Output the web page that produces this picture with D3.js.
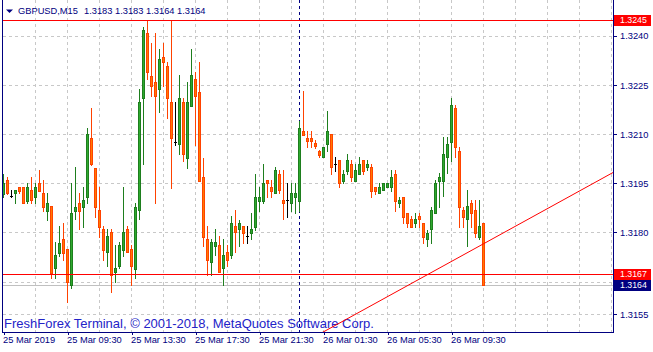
<!DOCTYPE html>
<html><head><meta charset="utf-8">
<script src="https://cdn.jsdelivr.net/npm/d3@7"></script>
<style>
html,body{margin:0;padding:0;background:#fff;}
svg{display:block;font-family:"Liberation Sans",Arial,sans-serif;}
</style></head>
<body>
<svg id="c" width="653" height="352"></svg>
<script>
const symbolTitle = "GBPUSD,M15";
const lastOHLC = "1.3183 1.3183 1.3164 1.3164";
const copyright = "FreshForex Terminal, \u00A9 2001-2018, MetaQuotes Software Corp.";

const opens = [1.31918,1.31960,1.31911,1.31920,1.31938,1.31938,1.31897,1.31930,1.31909,1.31950,
1.31920,1.31867,1.31881,1.31691,1.31738,1.31779,1.31749,1.31640,1.31867,1.31889,
1.31879,1.31909,1.32088,1.31998,1.31869,1.31811,1.31740,1.31801,1.31678,1.31699,
1.31747,1.31811,1.31750,1.31689,1.31869,1.32210,1.32408,1.32279,1.32259,1.32238,
1.32337,1.32309,1.32198,1.32077,1.32069,1.32198,1.32028,1.32187,1.32269,1.32228,
1.31969,1.31780,1.31709,1.31760,1.31762,1.31691,1.31740,1.31731,1.31821,1.31811,
1.31820,1.31789,1.31799,1.31818,1.31897,1.31897,1.31960,1.31938,1.31920,1.31979,
1.31899,1.31899,1.31889,1.31909,1.31897,1.32109,1.32089,1.32089,1.32073,1.32048,
1.32030,1.32070,1.32101,1.32009,1.32021,1.31958,1.31989,1.32009,1.31958,1.31979,
1.32021,1.31999,1.31999,1.31938,1.31920,1.31930,1.31938,1.31938,1.31979,1.31889,
1.31909,1.31859,1.31840,1.31828,1.31850,1.31828,1.31779,1.31810,1.31859,1.31958,
1.31958,1.32030,1.32077,1.32179,1.32050,1.31869,1.31840,1.31889,1.31869,1.31787,
1.31830];
const highs = [1.31979,1.31969,1.31930,1.31930,1.31938,1.31938,1.31950,1.31969,1.31950,1.31991,
1.31960,1.31920,1.31881,1.31772,1.31820,1.31830,1.31749,1.31950,1.31999,1.31920,
1.31938,1.32118,1.32179,1.31998,1.31940,1.31821,1.31811,1.31811,1.31762,1.31770,
1.31940,1.31821,1.31762,1.31889,1.32238,1.32428,1.32449,1.32379,1.32408,1.32360,
1.32379,1.32320,1.32449,1.32198,1.32281,1.32210,1.32259,1.32360,1.32289,1.32320,
1.32028,1.31821,1.31780,1.31811,1.31790,1.31780,1.31762,1.31851,1.31869,1.31838,
1.31820,1.31820,1.31859,1.31979,1.31938,1.32009,1.31960,1.31960,1.31999,1.31991,
1.31991,1.31950,1.31950,1.31950,1.32140,1.32232,1.32109,1.32109,1.32082,1.32052,
1.32060,1.32170,1.32101,1.32030,1.32021,1.31991,1.32040,1.32021,1.32009,1.32030,
1.32021,1.32021,1.32009,1.31938,1.31950,1.31950,1.31950,1.31991,1.31991,1.31909,
1.31909,1.31859,1.31850,1.31859,1.31859,1.31828,1.31808,1.31879,1.31960,1.31981,
1.32091,1.32091,1.32211,1.32189,1.32060,1.31879,1.31930,1.31899,1.31899,1.31899,
1.31830];
const lows = [1.31909,1.31918,1.31909,1.31889,1.31920,1.31889,1.31889,1.31889,1.31889,1.31928,
1.31867,1.31838,1.31660,1.31660,1.31728,1.31716,1.31589,1.31630,1.31840,1.31810,
1.31818,1.31889,1.32006,1.31848,1.31787,1.31716,1.31699,1.31619,1.31650,1.31691,
1.31729,1.31740,1.31638,1.31660,1.31841,1.32008,1.32269,1.32218,1.31889,1.32169,
1.32248,1.32149,1.31937,1.32067,1.32039,1.32018,1.31998,1.32187,1.32067,1.31958,
1.31760,1.31670,1.31670,1.31731,1.31678,1.31638,1.31699,1.31721,1.31740,1.31760,
1.31769,1.31769,1.31779,1.31808,1.31867,1.31889,1.31909,1.31909,1.31920,1.31920,
1.31840,1.31848,1.31867,1.31859,1.31867,1.32099,1.32060,1.32060,1.32058,1.32030,
1.32030,1.32050,1.31979,1.31989,1.31938,1.31950,1.31979,1.31958,1.31958,1.31979,
1.31979,1.31991,1.31909,1.31918,1.31920,1.31930,1.31938,1.31928,1.31867,1.31879,
1.31828,1.31818,1.31818,1.31818,1.31818,1.31769,1.31759,1.31769,1.31859,1.31879,
1.31911,1.31981,1.32019,1.32030,1.31818,1.31818,1.31759,1.31818,1.31787,1.31779,
1.31640];
const closes = [1.31950,1.31920,1.31911,1.31930,1.31928,1.31889,1.31938,1.31899,1.31938,1.31928,
1.31879,1.31889,1.31677,1.31731,1.31769,1.31738,1.31650,1.31859,1.31879,1.31867,
1.31899,1.32100,1.32008,1.31879,1.31818,1.31747,1.31790,1.31670,1.31691,1.31762,
1.31801,1.31740,1.31699,1.31879,1.32198,1.32418,1.32289,1.32248,1.32218,1.32330,
1.32320,1.32210,1.32088,1.32077,1.32210,1.32039,1.32198,1.32281,1.32218,1.31958,
1.31787,1.31716,1.31770,1.31770,1.31678,1.31731,1.31716,1.31828,1.31801,1.31828,
1.31799,1.31789,1.31810,1.31909,1.31909,1.31950,1.31950,1.31928,1.31991,1.31930,
1.31889,1.31899,1.31920,1.31920,1.32120,1.32099,1.32078,1.32078,1.32064,1.32038,
1.32060,1.32109,1.31999,1.32009,1.31950,1.31979,1.32021,1.31969,1.31991,1.32009,
1.31989,1.32009,1.31928,1.31928,1.31938,1.31950,1.31950,1.31969,1.31897,1.31899,
1.31848,1.31828,1.31818,1.31840,1.31840,1.31787,1.31799,1.31869,1.31950,1.31969,
1.32040,1.32070,1.32189,1.32060,1.31879,1.31848,1.31881,1.31859,1.31799,1.31820,
1.31640];

const priceTicks = [1.3240,1.3225,1.3210,1.3195,1.3180,1.3165,1.3155];
const timeTickBars = [0,16,32,48,64,80,96,112];
const timeLabels = ["25 Mar 2019","25 Mar 09:30","25 Mar 13:30","25 Mar 17:30","25 Mar 21:30","26 Mar 01:30","26 Mar 05:30","26 Mar 09:30"];
const gridBars = d3.range(8, 153, 8);
const highLine = 1.32449;
const lowLine = 1.31673;
const bidLine = 1.31640;
const separatorBar = 74;
const trendBars = [99.125, 152.375];
const trendPrices = [1.31625, 1.31983];

// geometry
const L = 2.5, R = 613.5, B = 332.5, T = -0.5;
const x = d3.scaleLinear().domain([0, 1]).range([3.5, 7.5]);
const y = d3.scaleLinear().domain([1.3155, 1.3240]).range([314.3, 36]);
const navy = "#000080";
const fmt = d3.format(".4f");
const tagValues = [highLine, lowLine, bidLine];

const svg = d3.select("#c");
svg.append("rect").attr("width",653).attr("height",352).attr("fill","#fff");

const defs = svg.append("defs");
defs.append("clipPath").attr("id","plot").append("rect")
  .attr("x",L+0.5).attr("y",0).attr("width",R-L-1).attr("height",B-0.5);

const grid = svg.append("g").attr("shape-rendering","crispEdges")
  .attr("stroke","#c8c8c8").attr("stroke-dasharray","3,3");
grid.selectAll("line.v").data(gridBars).join("line").attr("class","v")
  .attr("x1",d=>x(d)).attr("x2",d=>x(d)).attr("y1",0).attr("y2",B);
grid.selectAll("line.h").data(priceTicks).join("line").attr("class","h")
  .attr("x1",L).attr("x2",R).attr("y1",d=>Math.round(y(d))+0.5).attr("y2",d=>Math.round(y(d))+0.5);

// copyright
svg.append("text").attr("x",4).attr("y",328).attr("font-size","13px")
  .attr("fill","#2323c8").text(copyright);

// separator
svg.append("line").attr("x1",x(separatorBar)).attr("x2",x(separatorBar))
  .attr("y1",0).attr("y2",B).attr("stroke",navy).attr("stroke-dasharray","3,3")
  .attr("shape-rendering","crispEdges");

// bid line
svg.append("rect").attr("x",L).attr("width",R-L)
  .attr("y",Math.round(y(bidLine))).attr("height",1)
  .attr("fill","#c0c0c0");

// candles
const bars = d3.range(opens.length).map(i=>({i,o:opens[i],h:highs[i],l:lows[i],c:closes[i]}));
const colorOf = d => d.c > d.o ? ["#2eaa2e","#1e7e1e"] : d.c < d.o ? ["#ff7a00","#ff4200"] : ["#000","#000"];
const cg = svg.append("g").attr("shape-rendering","crispEdges").attr("clip-path","url(#plot)");
const cs = cg.selectAll("g").data(bars).join("g");
cs.append("line")
  .attr("x1",d=>x(d.i)).attr("x2",d=>x(d.i))
  .attr("y1",d=>Math.round(y(d.h))).attr("y2",d=>Math.round(y(d.l))+1)
  .attr("stroke",d=>colorOf(d)[1]);
cs.append("rect")
  .attr("x",d=>x(d.i)-1)
  .attr("y",d=>Math.round(y(Math.max(d.o,d.c)))+0.5)
  .attr("width",2)
  .attr("height",d=>Math.max(Math.round(y(Math.min(d.o,d.c)))-Math.round(y(Math.max(d.o,d.c))),0.01))
  .attr("fill",d=>colorOf(d)[0]).attr("stroke",d=>colorOf(d)[1]);

// red level lines
const lv = svg.append("g");
lv.selectAll("rect").data([highLine, lowLine]).join("rect")
  .attr("x",L).attr("width",R-L)
  .attr("y",d=>Math.round(y(d))).attr("height",1)
  .attr("fill","#ff0000");

// trend line
const slope = (trendPrices[1]-trendPrices[0])/(trendBars[1]-trendBars[0]);
const tb0 = 70, tb1 = 160;
svg.append("line").attr("clip-path","url(#plot)")
  .attr("x1",x(tb0)).attr("y1",y(trendPrices[0]+slope*(tb0-trendBars[0])))
  .attr("x2",x(tb1)).attr("y2",y(trendPrices[0]+slope*(tb1-trendBars[0])))
  .attr("stroke","#ff0000").attr("stroke-width",1);

// frame
svg.append("path").attr("d",`M${L},${T}V${B}H${R}V${T}`).attr("fill","none")
  .attr("stroke",navy).attr("shape-rendering","crispEdges");

// right axis (labels hidden behind price tags are not shown)
const hidden = v => tagValues.some(t => Math.abs(y(t)-y(v)) < 9);
const ya = svg.append("g").attr("transform",`translate(${R-0.5},0)`)
  .call(d3.axisRight(y).tickValues(priceTicks).tickFormat(v => hidden(v) ? "" : fmt(v)).tickSize(4).tickSizeOuter(0));
ya.select(".domain").remove();
ya.selectAll(".tick line").attr("stroke",navy).attr("shape-rendering","crispEdges");
ya.selectAll(".tick text").attr("fill",navy).attr("font-size","9.3px")
  .attr("font-family","Liberation Sans, Arial, sans-serif").attr("x",7);

// bottom axis
const xa = svg.append("g").attr("transform",`translate(0,${B-0.5})`)
  .call(d3.axisBottom(x).tickValues(timeTickBars).tickFormat((d,i)=>timeLabels[i]).tickSize(3).tickSizeOuter(0));
xa.select(".domain").remove();
xa.selectAll(".tick line").attr("stroke",navy).attr("shape-rendering","crispEdges");
xa.selectAll(".tick text").attr("fill",navy).attr("font-size","9.3px")
  .attr("font-family","Liberation Sans, Arial, sans-serif")
  .attr("text-anchor","start").attr("x",-1).attr("y",11).attr("dy",null);

// price tags
const tags = [[highLine,"#ff0000"],[lowLine,"#ff0000"],[bidLine,navy]];
tags.forEach(([v,col])=>{
  const cy = Math.round(y(v));
  svg.append("rect").attr("x",614).attr("y",cy-5.5).attr("width",37).attr("height",11)
    .attr("fill",col).attr("shape-rendering","crispEdges");
  svg.append("text").attr("x",620).attr("y",cy+3.3).attr("font-size","8.8px")
    .attr("fill","#fff").text(fmt(v));
});

// header
svg.append("path").attr("d","M6,9.5H13L9.5,13Z").attr("fill",navy);
svg.append("text").attr("x",18).attr("y",14).attr("font-size","9.3px").attr("fill",navy).text(symbolTitle);
svg.append("text").attr("x",84).attr("y",14).attr("font-size","9.3px").attr("fill",navy).text(lastOHLC);
</script>
</body></html>
